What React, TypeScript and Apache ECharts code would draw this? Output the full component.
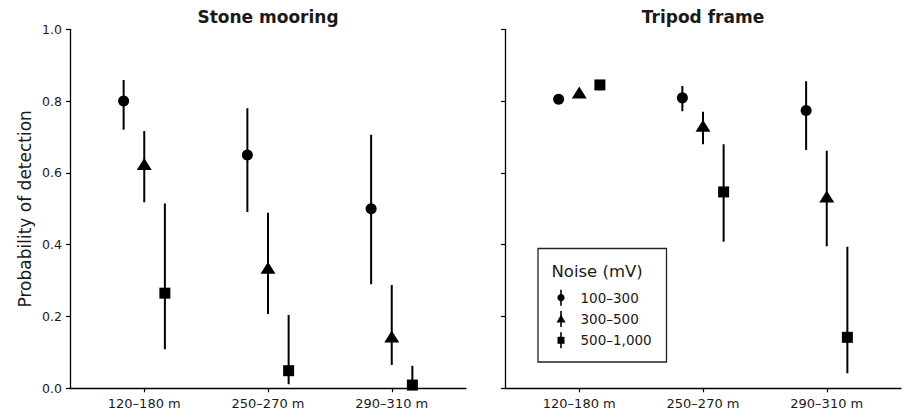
import React, { useEffect, useRef } from "react";
import * as echarts from "echarts";

const panelTitles = ["Stone mooring", "Tripod frame"];
const categories = ["120–180 m", "250–270 m", "290–310 m"];
const noiseGroups = ["100–300", "300–500", "500–1,000"];
const legendTitle = "Noise (mV)";
const yAxisName = "Probability of detection";
const yTicks = [0, 0.2, 0.4, 0.6, 0.8, 1.0];

// Stone mooring: mean / lower / upper, per noise group across categories
const stoneMean = [
  [0.8, 0.65, 0.5],
  [0.625, 0.336, 0.144],
  [0.265, 0.049, 0.009],
];
const stoneLow = [
  [0.72, 0.491, 0.29],
  [0.518, 0.207, 0.065],
  [0.109, 0.011, 0.0],
];
const stoneHigh = [
  [0.859, 0.78, 0.706],
  [0.717, 0.489, 0.288],
  [0.515, 0.204, 0.063],
];

// Tripod frame
const tripodMean = [
  [0.805, 0.809, 0.774],
  [0.824, 0.731, 0.534],
  [0.845, 0.547, 0.142],
];
const tripodLow = [
  [0.8, 0.772, 0.664],
  [0.82, 0.68, 0.396],
  [0.83, 0.408, 0.042],
];
const tripodHigh = [
  [0.81, 0.842, 0.855],
  [0.83, 0.77, 0.662],
  [0.859, 0.68, 0.394],
];

const groupOffsets = [-1 / 6, 0, 1 / 6];
const symbols = ["circle", "triangle", "rect"];
const symbolSizes: any[] = [11, [15, 12], 11];

const INK = "#000";
const TEXT = "#1a1a1a";
const FONT = "DejaVu Sans";

export default function App() {
  const ref = useRef<HTMLDivElement>(null);

  useEffect(() => {
    if (!ref.current) return;
    const chart = echarts.init(ref.current, undefined, { renderer: "svg" });

    const panels = [
      { mean: stoneMean, low: stoneLow, high: stoneHigh },
      { mean: tripodMean, low: tripodLow, high: tripodHigh },
    ];

    const grids = [
      { left: 70, top: 29.3, width: 396, height: 359 },
      { left: 505, top: 29.3, width: 396, height: 359 },
    ];

    const xAxes = grids.map((_, gi) => ({
      type: "value",
      gridIndex: gi,
      min: -0.6,
      max: 2.6,
      splitLine: { show: false },
      axisLine: { show: true, onZero: false, lineStyle: { color: INK, width: 1.3 } },
      axisTick: {
        show: true,
        customValues: [0, 1, 2],
        length: 4,
        lineStyle: { color: INK, width: 1.2 },
      },
      axisLabel: {
        customValues: [0, 1, 2],
        formatter: (v: number) => categories[Math.round(v)] ?? "",
        color: TEXT,
        fontFamily: FONT,
        fontSize: 13,
        margin: 9,
      },
    }));

    const yAxes = grids.map((_, gi) => ({
      type: "value",
      gridIndex: gi,
      min: yTicks[0],
      max: yTicks[yTicks.length - 1],
      interval: 0.2,
      splitLine: { show: false },
      axisLine: { show: true, onZero: false, lineStyle: { color: INK, width: 1.3 } },
      axisTick: { show: true, length: 4, lineStyle: { color: INK, width: 1.2 } },
      axisLabel: {
        show: gi === 0,
        formatter: (v: number) => v.toFixed(1),
        color: TEXT,
        fontFamily: FONT,
        fontSize: 12.5,
        margin: 8,
      },
      name: gi === 0 ? yAxisName : "",
      nameLocation: "middle",
      nameGap: 37,
      nameTextStyle: { color: TEXT, fontFamily: FONT, fontSize: 17 },
    }));

    const series: any[] = [];
    panels.forEach((p, pi) => {
      noiseGroups.forEach((name, g) => {
        series.push({
          type: "custom",
          name: name + " err",
          xAxisIndex: pi,
          yAxisIndex: pi,
          clip: true,
          z: 1,
          encode: { x: 0, y: [1, 2] },
          data: categories.map((_, i) => [i + groupOffsets[g], p.low[g][i], p.high[g][i]]),
          renderItem: (params: any, api: any) => {
            const x = api.value(0);
            const a = api.coord([x, api.value(1)]);
            const b = api.coord([x, api.value(2)]);
            return {
              type: "line",
              shape: { x1: a[0], y1: a[1], x2: b[0], y2: b[1] },
              style: { stroke: INK, lineWidth: 2 },
            };
          },
        });
        series.push({
          type: "scatter",
          name,
          xAxisIndex: pi,
          yAxisIndex: pi,
          clip: true,
          z: 2,
          symbol: symbols[g],
          symbolSize: symbolSizes[g],
          itemStyle: { color: INK, opacity: 1 },
          data: categories.map((_, i) => [i + groupOffsets[g], p.mean[g][i]]),
        });
      });
    });

    // Legend (drawn as graphic)
    const lx = 538;
    const ly = 248.5;
    const legendChildren: any[] = [
      {
        type: "rect",
        shape: { x: lx, y: ly, width: 128.5, height: 113.5 },
        style: { fill: "#fff", stroke: "#222", lineWidth: 1.3 },
      },
      {
        type: "text",
        style: {
          text: legendTitle,
          x: 551.5,
          y: 271,
          textVerticalAlign: "middle",
          font: `16.5px "${FONT}"`,
          fill: TEXT,
        },
      },
    ];
    const itemYs = [297.7, 319, 340.3];
    noiseGroups.forEach((name, g) => {
      const cy = itemYs[g];
      const mx = 561;
      legendChildren.push({
        type: "line",
        shape: { x1: mx, y1: cy - 8, x2: mx, y2: cy + 8 },
        style: { stroke: INK, lineWidth: 1.6 },
      });
      if (g === 0) {
        legendChildren.push({
          type: "circle",
          shape: { cx: mx, cy, r: 3.6 },
          style: { fill: INK },
        });
      } else if (g === 1) {
        legendChildren.push({
          type: "polygon",
          shape: { points: [[mx, cy - 4.5], [mx - 4.5, cy + 3.5], [mx + 4.5, cy + 3.5]] },
          style: { fill: INK },
        });
      } else {
        legendChildren.push({
          type: "rect",
          shape: { x: mx - 3.5, y: cy - 3.5, width: 7, height: 7 },
          style: { fill: INK },
        });
      }
      legendChildren.push({
        type: "text",
        style: {
          text: name,
          x: 580.5,
          y: cy,
          textVerticalAlign: "middle",
          font: `13.5px "${FONT}"`,
          fill: TEXT,
        },
      });
    });

    const titleGraphics = panelTitles.map((t, i) => ({
      type: "text",
      style: {
        text: t,
        x: grids[i].left + grids[i].width / 2,
        y: 17,
        textAlign: "center",
        textVerticalAlign: "middle",
        font: `bold 17px "${FONT}"`,
        fill: TEXT,
      },
    }));

    chart.setOption({
      animation: false,
      backgroundColor: "#fff",
      textStyle: { fontFamily: FONT },
      grid: grids,
      xAxis: xAxes,
      yAxis: yAxes,
      series,
      graphic: [
        ...titleGraphics,
        { type: "group", z: 100, children: legendChildren },
      ],
    });

    return () => chart.dispose();
  }, []);

  return (
    <div
      ref={ref}
      style={{ position: "fixed", left: 0, top: 0, width: 904, height: 416, background: "#fff" }}
    />
  );
}
